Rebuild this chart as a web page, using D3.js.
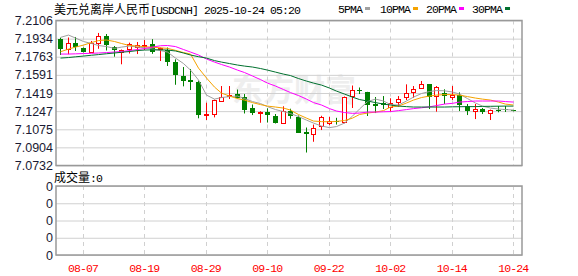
<!DOCTYPE html>
<html>
<head>
<meta charset="utf-8">
<script src="https://cdn.jsdelivr.net/npm/d3@7"></script>
<style>
  body { margin: 0; background: #fff; }
  svg { display: block; }
  .mono { font-family: "Liberation Mono", monospace; font-size: 11.5px; letter-spacing: -0.9px; }
</style>
</head>
<body>
<div id="chart"></div>
<script>
// trading days shown (MM-DD)
const dates = [
  '08-04','08-05','08-06','08-07','08-08','08-11','08-12','08-13','08-14','08-15',
  '08-18','08-19','08-20','08-21','08-22','08-25','08-26','08-27','08-28','08-29',
  '09-01','09-02','09-03','09-04','09-05','09-08','09-09','09-10','09-11','09-12',
  '09-15','09-16','09-17','09-18','09-19','09-22','09-23','09-24','09-25','09-26',
  '09-29','09-30','10-01','10-02','10-03','10-06','10-07','10-08','10-09','10-10',
  '10-13','10-14','10-15','10-16','10-17','10-20','10-21','10-22','10-23','10-24'
]

const open = [
  7.1931, 7.1834, 7.1890, 7.1842, 7.1810, 7.1890, 7.1961, 7.1855, 7.1812, 7.1833,
  7.1855, 7.1864, 7.1880, 7.1836, 7.1822, 7.1716, 7.1580, 7.1542, 7.1523, 7.1210,
  7.1217, 7.1346, 7.1391, 7.1409, 7.1384, 7.1277, 7.1229, 7.1239, 7.1201, 7.1132,
  7.1251, 7.1196, 7.1049, 7.1030, 7.1104, 7.1139, 7.1153, 7.1143, 7.1390, 7.1447,
  7.1425, 7.1315, 7.1324, 7.1289, 7.1331, 7.1384, 7.1431, 7.1463, 7.1501, 7.1390,
  7.1416, 7.1384, 7.1404, 7.1295, 7.1250, 7.1267, 7.1234, 7.1258, 7.1270, 7.1255
]
const high = [
  7.1943, 7.1945, 7.1950, 7.1850, 7.1912, 7.1988, 7.1978, 7.1864, 7.1831, 7.1896,
  7.1902, 7.1921, 7.1929, 7.1850, 7.1850, 7.1738, 7.1665, 7.1646, 7.1537, 7.1327,
  7.1357, 7.1485, 7.1485, 7.1452, 7.1409, 7.1310, 7.1246, 7.1274, 7.1220, 7.1293,
  7.1270, 7.1206, 7.1092, 7.1120, 7.1203, 7.1193, 7.1184, 7.1386, 7.1490, 7.1471,
  7.1430, 7.1381, 7.1390, 7.1369, 7.1390, 7.1501, 7.1485, 7.1533, 7.1504, 7.1485,
  7.1454, 7.1485, 7.1425, 7.1315, 7.1315, 7.1277, 7.1262, 7.1296, 7.1296, 7.1258
]
const low = [
  7.1779, 7.1786, 7.1817, 7.1803, 7.1800, 7.1838, 7.1822, 7.1763, 7.1691, 7.1793,
  7.1788, 7.1826, 7.1790, 7.1722, 7.1675, 7.1497, 7.1482, 7.1447, 7.1179, 7.1163,
  7.1188, 7.1338, 7.1362, 7.1367, 7.1225, 7.1210, 7.1137, 7.1139, 7.1130, 7.1125,
  7.1175, 7.1043, 7.0855, 7.0957, 7.1068, 7.1115, 7.1120, 7.1132, 7.1277, 7.1409,
  7.1201, 7.1229, 7.1267, 7.1242, 7.1289, 7.1352, 7.1374, 7.1457, 7.1267, 7.1242,
  7.1315, 7.1352, 7.1248, 7.1210, 7.1172, 7.1220, 7.1163, 7.1236, 7.1239, 7.1245
]
const close = [
  7.1836, 7.1890, 7.1852, 7.1809, 7.1890, 7.1956, 7.1874, 7.1826, 7.1822, 7.1880,
  7.1871, 7.1876, 7.1810, 7.1845, 7.1716, 7.1589, 7.1535, 7.1526, 7.1210, 7.1216,
  7.1352, 7.1378, 7.1397, 7.1374, 7.1258, 7.1226, 7.1241, 7.1208, 7.1132, 7.1248,
  7.1198, 7.1044, 7.1030, 7.1084, 7.1189, 7.1149, 7.1141, 7.1381, 7.1447, 7.1438,
  7.1305, 7.1296, 7.1310, 7.1321, 7.1362, 7.1416, 7.1457, 7.1501, 7.1384, 7.1473,
  7.1390, 7.1400, 7.1302, 7.1250, 7.1264, 7.1236, 7.1262, 7.1248, 7.1260, 7.1249
]

// moving averages as drawn
const ma5 = [
  7.1946, 7.1968, 7.1940, 7.1907, 7.1888, 7.1869, 7.1859, 7.1842, 7.1854, 7.1864,
  7.1854, 7.1848, 7.1835, 7.1821, 7.1807, 7.1750, 7.1698, 7.1636, 7.1542, 7.1399,
  7.1361, 7.1376, 7.1385, 7.1390, 7.1366, 7.1338, 7.1319, 7.1290, 7.1262, 7.1243,
  7.1224, 7.1196, 7.1162, 7.1134, 7.1106, 7.1091, 7.1101, 7.1134, 7.1200, 7.1267,
  7.1338, 7.1361, 7.1343, 7.1309, 7.1305, 7.1343, 7.1380, 7.1414, 7.1433, 7.1442,
  7.1440, 7.1428, 7.1409, 7.1366, 7.1324, 7.1295, 7.1276, 7.1267, 7.1262, 7.1257
]
const ma10 = [
  7.1810, 7.1835, 7.1854, 7.1873, 7.1897, 7.1916, 7.1921, 7.1907, 7.1888, 7.1869,
  7.1864, 7.1857, 7.1853, 7.1847, 7.1842, 7.1823, 7.1802, 7.1788, 7.1655, 7.1561,
  7.1475, 7.1418, 7.1390, 7.1366, 7.1352, 7.1328, 7.1309, 7.1295, 7.1286, 7.1276,
  7.1257, 7.1215, 7.1181, 7.1153, 7.1148, 7.1146, 7.1150, 7.1158, 7.1181, 7.1215,
  7.1229, 7.1238, 7.1252, 7.1286, 7.1295, 7.1324, 7.1352, 7.1376, 7.1390, 7.1399,
  7.1404, 7.1404, 7.1399, 7.1385, 7.1371, 7.1361, 7.1352, 7.1333, 7.1314, 7.1305
]
const ma20 = [
  7.1788, 7.1788, 7.1790, 7.1793, 7.1795, 7.1798, 7.1802, 7.1807, 7.1812, 7.1821,
  7.1831, 7.1840, 7.1854, 7.1867, 7.1869, 7.1859, 7.1831, 7.1807, 7.1779, 7.1741,
  7.1712, 7.1689, 7.1665, 7.1636, 7.1613, 7.1580, 7.1546, 7.1513, 7.1485, 7.1452,
  7.1423, 7.1395, 7.1361, 7.1328, 7.1305, 7.1271, 7.1248, 7.1234, 7.1226, 7.1229,
  7.1238, 7.1238, 7.1241, 7.1243, 7.1252, 7.1262, 7.1271, 7.1279, 7.1288, 7.1300,
  7.1314, 7.1321, 7.1333, 7.1338, 7.1343, 7.1343, 7.1343, 7.1343, 7.1338, 7.1333
]
const ma30 = [
  7.1750, 7.1755, 7.1762, 7.1769, 7.1777, 7.1783, 7.1791, 7.1798, 7.1805, 7.1812,
  7.1821, 7.1826, 7.1828, 7.1828, 7.1826, 7.1817, 7.1798, 7.1779, 7.1763, 7.1750,
  7.1726, 7.1712, 7.1698, 7.1684, 7.1674, 7.1665, 7.1651, 7.1636, 7.1617, 7.1598,
  7.1584, 7.1556, 7.1532, 7.1513, 7.1494, 7.1466, 7.1437, 7.1409, 7.1380, 7.1357,
  7.1343, 7.1328, 7.1314, 7.1305, 7.1295, 7.1290, 7.1286, 7.1286, 7.1286, 7.1286,
  7.1286, 7.1288, 7.1289, 7.1290, 7.1290, 7.1292, 7.1293, 7.1294, 7.1295, 7.1295
]

const priceTicks = [7.2106, 7.1934, 7.1763, 7.1591, 7.1419, 7.1247, 7.1075, 7.0904, 7.0732]
const dateTicks = ['08-07', '08-19', '08-29', '09-10', '09-22', '10-02', '10-14', '10-24']
const volTicks = [0, 1, 2, 3, 4]
const volLabels = ['0', '0', '0', '0', '0']

const maNames = ['5PMA', '10PMA', '20PMA', '30PMA']
const maColors = ['#a0a0a0', '#f5a300', '#ff00ff', '#00702e']

const upColor = '#ff0000'
const downColor = '#008000'
const gridColor = '#d0d0d0'
const frameColor = '#999999'
const cjk = '"Noto Sans CJK SC", sans-serif'

const W = 578, H = 276
const plotLeft = 56, plotRight = 522
const plotTop = 20.5, plotBottom = 165.5
const volTop = 186, volBottom = 255

const svg = d3.select('#chart')
  .append('svg')
    .attr('width', W)
    .attr('height', H)

const x = d3.scaleBand()
  .domain(dates)
  .range([plotLeft, 517])
  .paddingInner(0.35)
  .paddingOuter(0.175)

const cx = d => Math.round(x(d) + x.bandwidth() / 2)

const y = d3.scaleLinear()
  .domain([priceTicks[priceTicks.length - 1], priceTicks[0]])
  .range([plotBottom, plotTop])

const yv = d3.scaleLinear()
  .domain([0, 4])
  .range([volBottom, volTop])

// title
const title = svg.append('text')
  .attr('x', 54)
  .attr('y', 14)
  .attr('fill', '#000')
title.append('tspan').style('font', `12px ${cjk}`).text('美元兑离岸人民币')
title.append('tspan').attr('class', 'mono').text('[USDCNH] 2025-10-24 05:20')

// legend
const legendX = [338, 380, 426, 472]
maNames.forEach((name, i) => {
  const t = svg.append('text')
    .attr('x', legendX[i])
    .attr('y', 13)
    .attr('class', 'mono')
    .attr('fill', '#000')
    .text(name)
  const w = t.node().getComputedTextLength()
  svg.append('rect')
    .attr('x', legendX[i] + w + 3)
    .attr('y', 7)
    .attr('width', 5)
    .attr('height', 3)
    .attr('fill', maColors[i])
})

// watermark
svg.append('text')
  .attr('x', 232)
  .attr('y', 101)
  .style('font', `bold 31px ${cjk}`)
  .attr('fill', '#eeeeee')
  .text('东方财富')

// price grid + labels
const yAxis = svg.append('g')
  .attr('transform', `translate(${plotLeft}, 0)`)
  .call(d3.axisLeft(y)
    .tickValues(priceTicks)
    .tickSize(-(plotRight - plotLeft))
    .tickPadding(3)
    .tickFormat(d => d.toFixed(4)))
yAxis.select('.domain').remove()
yAxis.selectAll('line').attr('stroke', gridColor)
yAxis.selectAll('text')
  .style('font', '12.5px "Liberation Sans", Arial, sans-serif')
  .attr('fill', '#1a1a33')

// volume grid + labels
const vAxis = svg.append('g')
  .attr('transform', `translate(${plotLeft}, 0)`)
  .call(d3.axisLeft(yv)
    .tickValues(volTicks)
    .tickSize(-(plotRight - plotLeft))
    .tickPadding(3)
    .tickFormat((d, i) => volLabels[i]))
vAxis.select('.domain').remove()
vAxis.selectAll('line').attr('stroke', gridColor)
vAxis.selectAll('text')
  .style('font', '12.5px "Liberation Sans", Arial, sans-serif')
  .attr('fill', '#1a1a33')

// vertical dashed lines
const vlines = svg.append('g')
dateTicks.forEach(d => {
  [[plotTop, plotBottom], [volTop, volBottom]].forEach(([a, b]) => {
    vlines.append('line')
      .attr('x1', cx(d) + 0.5)
      .attr('x2', cx(d) + 0.5)
      .attr('y1', a)
      .attr('y2', b)
      .attr('stroke', gridColor)
      .attr('stroke-dasharray', '4,4')
  })
})

// x labels
const xAxis = svg.append('g')
  .attr('transform', `translate(0, ${volBottom})`)
  .call(d3.axisBottom(x)
    .tickValues(dateTicks)
    .tickSize(0)
    .tickPadding(9))
xAxis.select('.domain').remove()
xAxis.selectAll('text')
  .attr('class', 'mono')
  .attr('font-family', null)
  .attr('font-size', null)
  .attr('fill', '#ff0000')
xAxis.attr('font-family', null).attr('font-size', null)

// volume caption
const vt = svg.append('text')
  .attr('x', 54)
  .attr('y', 182)
  .attr('fill', '#000')
vt.append('tspan').style('font', `12px ${cjk}`).text('成交量')
vt.append('tspan').attr('class', 'mono').text(':0')

// candles
const candles = svg.append('g')
dates.forEach((d, i) => {
  const c = cx(d)
  const up = close[i] >= open[i]
  const yTop = Math.round(y(Math.max(open[i], close[i])))
  const yBot = Math.round(y(Math.min(open[i], close[i])))
  const color = up ? upColor : downColor
  candles.append('line')
    .attr('x1', c + 0.5).attr('x2', c + 0.5)
    .attr('y1', y(high[i])).attr('y2', y(low[i]))
    .attr('stroke', color)
  if (up) {
    candles.append('rect')
      .attr('x', c - 1.5)
      .attr('y', yTop + 0.5)
      .attr('width', 4)
      .attr('height', Math.max(yBot - yTop, 1))
      .attr('fill', '#fff')
      .attr('stroke', color)
  } else {
    candles.append('rect')
      .attr('x', c - 2)
      .attr('y', yTop)
      .attr('width', 5)
      .attr('height', Math.max(yBot - yTop, 1))
      .attr('fill', color)
  }
})

// moving average lines
const line = d3.line()
  .x((v, i) => cx(dates[i]) + 0.5)
  .y(v => y(v))
;[ma5, ma10, ma20, ma30].forEach((series, k) => {
  svg.append('path')
    .datum(series)
    .attr('d', line)
    .attr('fill', 'none')
    .attr('stroke', maColors[k])
    .attr('stroke-width', 1)
})

// frames
;[[plotTop, plotBottom], [volTop, volBottom]].forEach(([a, b]) => {
  svg.append('rect')
    .attr('x', plotLeft)
    .attr('y', a)
    .attr('width', plotRight - plotLeft)
    .attr('height', b - a)
    .attr('fill', 'none')
    .attr('stroke', frameColor)
    .attr('stroke-width', 1.5)
})
</script>
</body>
</html>
